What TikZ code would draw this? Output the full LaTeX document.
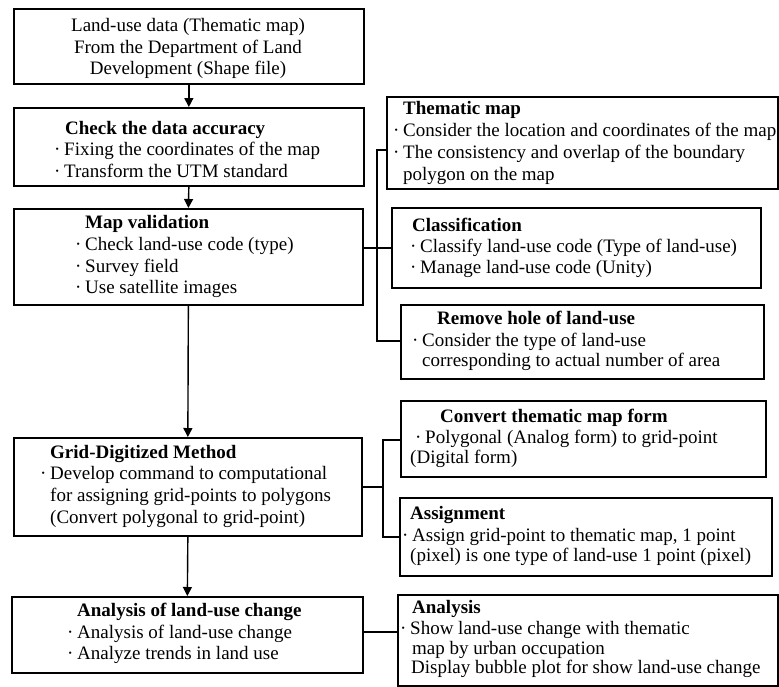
\documentclass[tikz,border=0pt]{standalone}
\usepackage{fontspec}
\setmainfont{Liberation Serif}
\usetikzlibrary{arrows.meta}
\newcommand\bul{\makebox[10pt][l]{·}}
\begin{document}
\begin{tikzpicture}[x=1pt,y=-1pt,
  box/.style={draw, line width=1.7pt, rectangle, inner sep=0pt, anchor=north west},
  txt/.style={anchor=base west, inner sep=0pt, font=\fontsize{19}{21.7}\selectfont},
  ttl/.style={txt, font=\fontsize{19}{21.7}\selectfont\bfseries},
  ctr/.style={txt, anchor=base},
  link/.style={line width=1.4pt},
  arr/.style={line width=1.4pt, -{Triangle[width=9pt,length=9pt]}}]
\useasboundingbox (0,0) rectangle (779,686);
\fill[white] (0,0) rectangle (779,686);
% left column boxes
\node[box, minimum width=350pt, minimum height=75pt] (b1) at (13,8) {};
\node[box, minimum width=350pt, minimum height=78pt] (b2) at (13,107) {};
\node[box, minimum width=349pt, minimum height=96pt] (b3) at (13,208) {};
\node[box, minimum width=348pt, minimum height=98pt] (b4) at (13,437) {};
\node[box, minimum width=351pt, minimum height=76pt] (b5) at (11,596) {};
% right column boxes
\node[box, minimum width=391pt, minimum height=92pt] (thm) at (386,96) {};
\node[box, minimum width=369pt, minimum height=80pt] (cls) at (391,207) {};
\node[box, minimum width=363pt, minimum height=74pt] (rem) at (400,304) {};
\node[box, minimum width=365pt, minimum height=76pt] (cvt) at (400,400) {};
\node[box, minimum width=372pt, minimum height=78pt] (asg) at (399,497) {};
\node[box, minimum width=380pt, minimum height=91pt] (ana) at (397,594) {};
% texts box 1
\node[ctr] (t1a) at (188,31) {Land-use data (Thematic map)};
\node[ctr] (t1b) at (188,53) {From the Department of Land};
\node[ctr] (t1c) at (188,74) {Development (Shape file)};
% box 2
\node[ttl] (t2a) at (65,134) {Check the data accuracy};
\node[txt] (t2b) at (54,155) {\bul Fixing the coordinates of the map};
\node[txt] (t2c) at (54,177) {\bul Transform the UTM standard};
% box 3
\node[ttl] (t3a) at (85,228) {Map validation};
\node[txt] (t3b) at (75,250) {\bul Check land-use code (type)};
\node[txt] (t3c) at (75,272) {\bul Survey field};
\node[txt] (t3d) at (75,293) {\bul Use satellite images};
% box 4
\node[ttl] (t4a) at (50,458) {Grid-Digitized Method};
\node[txt] (t4b) at (40,479) {\bul Develop command to computational};
\node[txt] (t4c) at (50,501) {for assigning grid-points to polygons};
\node[txt] (t4d) at (50,523) {(Convert polygonal to grid-point)};
% box 5
\node[ttl] (t5a) at (77,616) {Analysis of land-use change};
\node[txt] (t5b) at (67,638) {\bul Analysis of land-use change};
\node[txt] (t5c) at (67,659) {\bul Analyze trends in land use};
% thematic map
\node[ttl] (tha) at (403,114) {Thematic map};
\node[txt] (thb) at (393,136) {\bul Consider the location and coordinates of the map};
\node[txt] (thc) at (393,158) {\bul The consistency and overlap of the boundary};
\node[txt] (thd) at (403,180) {polygon on the map};
% classification
\node[ttl] (cla) at (412,231) {Classification};
\node[txt] (clb) at (410,252) {\bul Classify land-use code (Type of land-use)};
\node[txt] (clc) at (410,273) {\bul Manage land-use code (Unity)};
% remove hole
\node[ttl] (rea) at (437,324) {Remove hole of land-use};
\node[txt] (reb) at (412,346) {\bul Consider the type of land-use};
\node[txt] (rec) at (422,366) {corresponding to actual number of area};
% convert
\node[ttl] (cva) at (440,422) {Convert thematic map form};
\node[txt] (cvb) at (415,443) {\bul Polygonal (Analog form) to grid-point};
\node[txt] (cvc) at (410,463) {(Digital form)};
% assignment
\node[ttl] (asa) at (410,519) {Assignment};
\node[txt] (asb) at (402,541) {\bul Assign grid-point to thematic map, 1 point};
\node[txt] (asc) at (410,561) {(pixel) is one type of land-use 1 point (pixel)};
% analysis
\node[ttl] (ana1) at (412,613) {Analysis};
\node[txt] (ana2) at (400,634) {\bul Show land-use change with thematic};
\node[txt] (ana3) at (412,654) {map by urban occupation};
\node[txt] (ana4) at (411,673) {Display bubble plot for show land-use change};
% vertical flow
\draw[arr] (b1.south) -- (b2.north);
\draw[arr] (b2.south) -- (b3.north);
\draw[arr] (b3.south) -- (b4.north);
\draw[arr] (b4.south) -- (b5.north);
% bus 1
\coordinate (p1) at (377,150);
\coordinate (p2) at (377,341);
\draw[link] (p1 -| thm.west) -- (p1) -- (p2) -- (p2 -| rem.west);
\draw[link] (b3.east |- cls.west) -- (cls.west);
% bus 2
\coordinate (q1) at (383,440);
\coordinate (q2) at (383,537);
\draw[link] (q1 -| cvt.west) -- (q1) -- (q2) -- (q2 -| asg.west);
\draw[link] (b4.east) -- (b4.east -| q1);
% analysis
\draw[link] (b5.east |- 0,632) -- (ana.west |- 0,632);
\end{tikzpicture}
\end{document}
